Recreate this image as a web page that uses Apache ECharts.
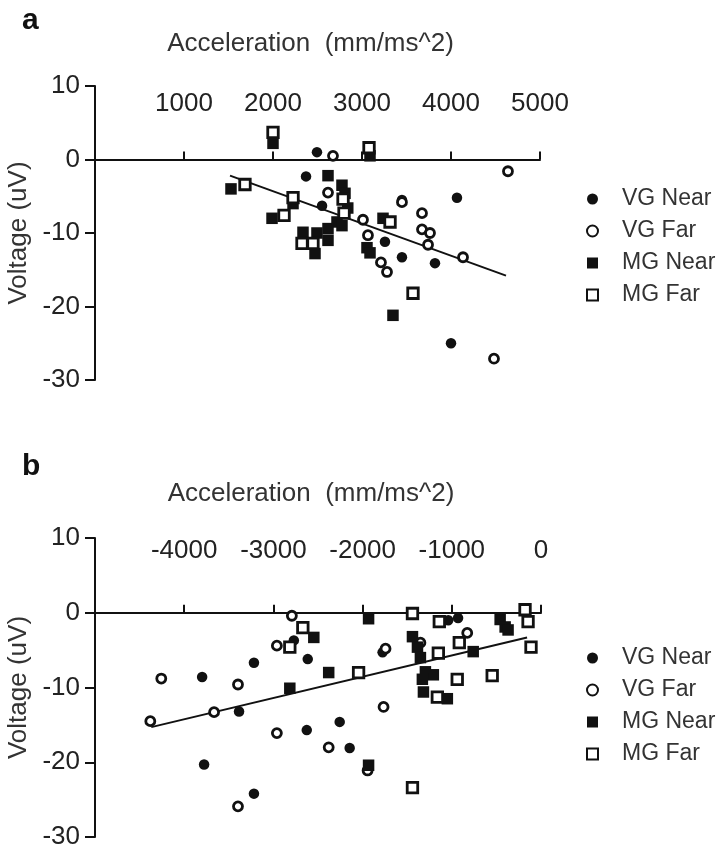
<!DOCTYPE html>
<html>
<head>
<meta charset="utf-8">
<script src="https://cdn.jsdelivr.net/npm/echarts@6/dist/echarts.min.js"></script>
<style>
html,body{margin:0;padding:0;background:#fff;}
#c{width:718px;height:845px;}
</style>
</head>
<body>
<div id="c"></div>
<script>
// ---------- Data ----------
const seriesNames = ['VG Near', 'VG Far', 'MG Near', 'MG Far'];
const xTitle = 'Acceleration  (mm/ms^2)';
const yTitle = 'Voltage (uV)';

// Panel a: [acceleration, voltage]
const aVGNear = [[2494,1.0],[2371,-2.3],[2551,-6.3],[3449,-5.5],[4067,-5.2],[3258,-11.2],[3449,-13.3],[3820,-14.1],[4000,-25.0]];
const aVGFar = [[2674,0.5],[4640,-1.6],[2618,-4.5],[3449,-5.8],[3674,-7.3],[3011,-8.2],[3674,-9.5],[3764,-10.0],[3742,-11.6],[4135,-13.3],[3067,-10.3],[3213,-14.0],[3281,-15.3],[4483,-27.1]];
const aMGNear = [[2000,2.2],[3090,0.5],[2618,-2.2],[1528,-4.0],[2775,-3.5],[2809,-4.6],[2225,-6.0],[1989,-8.0],[2840,-6.6],[2719,-8.5],[2618,-9.4],[2494,-10.0],[2337,-9.9],[2472,-12.8],[2618,-11.0],[2775,-9.0],[3236,-8.0],[3056,-12.0],[3090,-12.7],[3348,-21.2]];
const aMGFar = [[2000,3.7],[3079,1.6],[1685,-3.4],[2225,-5.2],[2787,-5.4],[2124,-7.6],[2798,-7.3],[3315,-8.5],[2326,-11.4],[2449,-11.4],[3573,-18.2]];
const aFit = [[1517,-2.2],[4618,-15.8]];

// Panel b
const bVGNear = [[-2771,-3.7],[-3218,-6.7],[-2615,-6.2],[-3799,-8.6],[-3385,-13.2],[-2626,-15.7],[-2257,-14.6],[-2145,-18.1],[-3777,-20.3],[-3218,-24.2],[-1776,-5.3],[-1040,-1.0],[-930,-0.7]];
const bVGFar = [[-2793,-0.4],[-2961,-4.4],[-4257,-8.8],[-3397,-9.6],[-4380,-14.5],[-3665,-13.3],[-2961,-16.1],[-2380,-18.0],[-1765,-12.6],[-1944,-21.1],[-3397,-25.9],[-1743,-4.8],[-827,-2.7],[-1352,-4.0]];
const bMGNear = [[-2547,-3.3],[-2380,-8.0],[-2816,-10.1],[-1933,-0.8],[-1933,-20.4],[-1441,-3.2],[-1385,-4.6],[-1352,-6.0],[-1296,-7.9],[-1207,-8.3],[-1330,-8.9],[-1318,-10.6],[-1050,-11.5],[-760,-5.2],[-458,-0.9],[-402,-1.9],[-369,-2.3]];
const bMGFar = [[-2670,-2.0],[-2816,-4.6],[-2045,-8.0],[-1441,-0.1],[-1140,-1.2],[-179,0.4],[-145,-1.2],[-112,-4.6],[-916,-4.0],[-1151,-5.4],[-547,-8.4],[-939,-8.9],[-1162,-11.3],[-1441,-23.4]];
const bFit = [[-4369,-15.3],[-156,-3.3]];

const aXRange = [0, 5000];
const bXRange = [-5000, 0];
const yRange = [-30, 10];

// ---------- Styles ----------
const FONT = 'Liberation Sans, Arial, sans-serif';
const INK = '#111';
const styles = {
  'VG Near': {symbol:'circle', symbolSize:10.5, itemStyle:{color:INK, borderWidth:0, opacity:1}},
  'VG Far':  {symbol:'circle', symbolSize:9, itemStyle:{color:'#fff', borderColor:INK, borderWidth:2.8, opacity:1}},
  'MG Near': {symbol:'rect', symbolSize:11.5, itemStyle:{color:INK, borderWidth:0, opacity:1}},
  'MG Far':  {symbol:'rect', symbolSize:10.5, itemStyle:{color:'#fff', borderColor:INK, borderWidth:2.8, opacity:1}}
};

// grids: top / bottom in px; the x axis is drawn on the y=0 line of each grid
const gridA = {left:95, right:178, top:86, bottom:465};
const gridB = {left:95, right:177, top:538, bottom:8};
function zeroOffset(g) {
  const h = 845 - g.top - g.bottom;
  return -h * (yRange[1] - 0) / (yRange[1] - yRange[0]);
}

function xAxisOf(gi, range, g, labelMargin, nameGap) {
  return {
    gridIndex: gi, type:'value', min:range[0], max:range[1], interval:1000,
    position:'top', offset: zeroOffset(g),
    axisLine:{show:true, onZero:false, lineStyle:{color:INK, width:2}},
    axisTick:{show:true, inside:false, length:8, lineStyle:{color:INK, width:2}},
    axisLabel:{show:true, showMinLabel:false, margin:labelMargin, fontSize:26, color:'#222', fontFamily:FONT,
      formatter: v => String(v)},
    splitLine:{show:false},
    name: xTitle, nameLocation:'middle', nameGap:nameGap,
    nameTextStyle:{fontSize:26, color:'#333', fontFamily:FONT, padding:[0,14,0,0]}
  };
}
function yAxisOf(gi) {
  return {
    gridIndex: gi, type:'value', min:yRange[0], max:yRange[1], interval:10,
    axisLine:{show:true, onZero:false, lineStyle:{color:INK, width:2}},
    axisTick:{show:true, length:10, lineStyle:{color:INK, width:2}},
    axisLabel:{margin:15, fontSize:26, color:'#222', fontFamily:FONT, formatter: v => String(v)},
    splitLine:{show:false},
    name: yTitle, nameLocation:'middle', nameGap:54,
    nameTextStyle:{fontSize:26, color:'#333', fontFamily:FONT}
  };
}
function scatter(name, data, gi) {
  const s = styles[name];
  return {type:'scatter', name, data, xAxisIndex:gi, yAxisIndex:gi,
    symbol:s.symbol, symbolSize:s.symbolSize, itemStyle:s.itemStyle, silent:true, z:3};
}
function fitLine(data, gi) {
  return {type:'line', name:'fit'+gi, data, xAxisIndex:gi, yAxisIndex:gi, showSymbol:false,
    symbol:'none', lineStyle:{color:INK, width:2}, silent:true, z:2, animation:false};
}
function legendOf(top) {
  return {
    data: seriesNames, orient:'vertical', left:581, top:top,
    itemWidth:11, itemHeight:11, itemGap:2,
    textStyle:{fontSize:23, color:'#333', fontFamily:FONT, lineHeight:30, padding:[0,0,0,19]},
    selectedMode:false
  };
}

const chart = echarts.init(document.getElementById('c'), null, {renderer:'canvas'});
chart.setOption({
  animation:false,
  backgroundColor:'#fff',
  grid:[
    Object.assign({containLabel:false, outerBoundsMode:'none'}, gridA),
    Object.assign({containLabel:false, outerBoundsMode:'none'}, gridB)
  ],
  xAxis:[xAxisOf(0, aXRange, gridA, 43, 103), xAxisOf(1, bXRange, gridB, 49, 106)],
  yAxis:[yAxisOf(0), yAxisOf(1)],
  legend:[legendOf(179), legendOf(638)],
  graphic:[
    {type:'text', left:22, top:6, style:{text:'a', font:'bold 30px '+FONT, fill:INK}},
    {type:'text', left:22, top:452, style:{text:'b', font:'bold 30px '+FONT, fill:INK}}
  ],
  series:[
    fitLine(aFit, 0),
    scatter('VG Near', aVGNear, 0),
    scatter('VG Far', aVGFar, 0),
    scatter('MG Near', aMGNear, 0),
    scatter('MG Far', aMGFar, 0),
    fitLine(bFit, 1),
    scatter('VG Near', bVGNear, 1),
    scatter('VG Far', bVGFar, 1),
    scatter('MG Near', bMGNear, 1),
    scatter('MG Far', bMGFar, 1)
  ]
});
</script>
</body>
</html>
